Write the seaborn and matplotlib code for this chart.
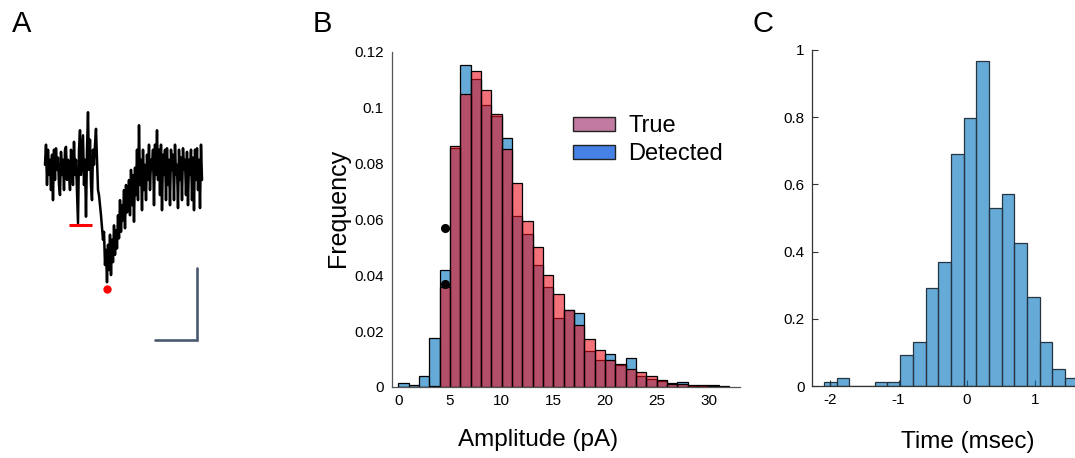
import numpy as np
import matplotlib
matplotlib.use("Agg")
import matplotlib.pyplot as plt
from matplotlib.patches import Patch
import seaborn as sns

# ---- panel A: example event trace (pA), one sample every 0.12 ms
trace_pA = [0.3, 3.1, -2.5, 2.4, -1.1, 1.0, -3.2, 1.7, -4.6, 2.4,
            -1.8, 2.6, -0.4, 1.3, -2.5, -3.9, 2.1, -1.1, 1.0, -3.2,
            2.4, 2.8, -1.8, 1.0, -0.7, -3.2, 2.4, 0.3, -2.5, 3.5,
            -1.1, 1.0, -3.2, -7.8, 2.4, 5.1, -1.1, 1.7, 4.4, -2.5,
            1.0, -6.9, 2.4, 7.6, -0.4, 3.8, -2.5, -4.6, 2.4, 0.3,
            3.1, 5.3, 1.0, -3.2, -3.9, -5.3, -6.7, -8.5, -10.1, -9.0,
            -13.6, -11.5, -16.0, -10.8, -14.3, -9.4, -15.0, -10.1, -13.2, -8.1,
            -12.2, -8.8, -11.3, -6.7, -9.9, -4.6, -9.0, -5.3, -7.4, -3.2,
            -8.5, -2.5, -6.3, -4.6, -1.8, -6.7, -0.4, -5.3, -1.1, -7.6,
            -0.1, -3.9, 2.4, -4.6, 5.8, -2.5, 1.0, -6.0, 2.4, -3.2,
            0.3, -4.6, 1.7, -1.8, 3.1, -3.2, 1.0, -0.4, 2.4, -5.3,
            3.1, -1.1, 5.1, -1.8, 2.4, -3.9, 3.1, -6.0, 1.7, -1.1,
            2.4, -4.6, 2.6, -2.5, 1.0, -5.3, 2.4, -0.4, 1.7, -4.6,
            3.1, -1.1, 0.3, -5.7, 2.4, -1.8, 1.3, -4.6, 2.6, -0.4,
            1.0, -3.9, 2.1, -5.3, 1.0, -1.1, 2.4, -4.6, 1.3, -6.0,
            2.4, -1.8, 2.6, -3.2, 1.0, -5.7, 3.1, -1.8]
sample_ms = 0.12
threshold_pA = -8.1
threshold_ms = [2.9, 5.6]
scalebar_ms = 5
scalebar_pA = 10

# ---- panel B: amplitude histograms (1 pA bins)
amp_edges = list(range(0, 33))
detected_freq = [0.0016, 0.0007, 0.0038, 0.0177, 0.0418, 0.0854, 0.115, 0.110,
                 0.101, 0.097, 0.089, 0.061, 0.0546, 0.0436, 0.0358, 0.0248,
                 0.0277, 0.0266, 0.0129, 0.0098, 0.0117, 0.0080, 0.0105, 0.0038,
                 0.0030, 0.0021, 0.0014, 0.0017, 0.0005, 0.0003, 0.0008, 0.0001]
true_freq = [0.0, 0.0, 0.0, 0.0005, 0.0358, 0.0863, 0.1047, 0.1131,
             0.1063, 0.0975, 0.085, 0.0728, 0.0595, 0.0499, 0.040, 0.0331,
             0.0277, 0.0221, 0.0171, 0.0134, 0.0098, 0.0084, 0.0063, 0.0054,
             0.0038, 0.0026, 0.0012, 0.0012, 0.0008, 0.0008, 0.0005, 0.0003]
marker_amp = [4.57, 4.57]
marker_freq = [0.057, 0.037]

# ---- panel C: timing error histogram
time_edges = [-2.09, -1.997, -1.905, -1.719, -1.534, -1.348, -1.163, -0.977,
              -0.792, -0.606, -0.421, -0.235, -0.050, 0.136, 0.321, 0.507,
              0.692, 0.878, 1.063, 1.249, 1.434, 1.620]
time_density = [0.0129, 0.0129, 0.025, 0.0, 0.0, 0.012, 0.012, 0.092,
                 0.132, 0.291, 0.370, 0.690, 0.797, 0.968, 0.529, 0.570,
                 0.425, 0.266, 0.132, 0.052, 0.025]

sns.set_theme(style="white")
plt.rcParams["font.family"] = ["Liberation Sans", "DejaVu Sans"]
plt.rcParams["axes.unicode_minus"] = False
plt.rcParams["text.color"] = "black"
plt.rcParams["axes.labelcolor"] = "black"
plt.rcParams["xtick.color"] = "black"
plt.rcParams["ytick.color"] = "black"

W, H = 1075, 458
fig = plt.figure(figsize=(W / 100, H / 100), dpi=100)


def box(l, t, r, b):
    return [l / W, 1 - b / H, (r - l) / W, (b - t) / H]


def restyle(patches, face, edge, lw):
    for p in patches:
        p.set_alpha(None)
        p.set_facecolor(face)
        p.set_edgecolor(edge)
        p.set_linewidth(lw)


axA = fig.add_axes(box(40, 100, 210, 350))
axB = fig.add_axes(box(392, 51.5, 740, 387))
axC = fig.add_axes(box(811.7, 50, 1075, 386))

# ---- A
t = np.arange(len(trace_pA)) * sample_ms
sns.lineplot(x=t, y=trace_pA, ax=axA, color="black", lw=1.8)
axA.plot(threshold_ms, [threshold_pA, threshold_pA], color="red", lw=2.2,
         solid_capstyle="butt")
imin = int(np.argmin(trace_pA))
axA.plot(t[imin], trace_pA[imin] - 1.0, "o", color="red", ms=6, mec="none")
x0, y0 = 18.24, -24.0
axA.plot([x0 - scalebar_ms, x0, x0], [y0, y0, y0 + scalebar_pA],
         color="#4a5a70", lw=1.9, solid_joinstyle="miter")
axA.set_xlim(-0.6, 19.8)
axA.set_ylim(-25.4, 9.3)
axA.axis("off")

# ---- B
amp_centers = [e + 0.5 for e in amp_edges[:-1]]
n0 = len(axB.patches)
sns.histplot(x=amp_centers, weights=detected_freq, bins=amp_edges, ax=axB)
restyle(axB.patches[n0:], (0.0, 0.447, 0.741, 0.6), "black", 0.9)
n1 = len(axB.patches)
sns.histplot(x=amp_centers, weights=true_freq, bins=amp_edges, ax=axB)
restyle(axB.patches[n1:], (0.92, 0.05, 0.1, 0.58), "black", 0.9)
axB.plot(marker_amp, marker_freq, "o", color="black", ms=5.5, zorder=5)

axB.set_xlim(-0.6, 33.05)
axB.set_ylim(0, 0.12)
axB.set_yticks([0, 0.02, 0.04, 0.06, 0.08, 0.1, 0.12])
axB.set_yticklabels(["0", "0.02", "0.04", "0.06", "0.08", "0.1", "0.12"])
axB.set_xticks([0, 5, 10, 15, 20, 25, 30])
axB.tick_params(axis="both", length=0, labelsize=11)
axB.tick_params(axis="y", pad=6)
axB.tick_params(axis="x", pad=5)
for s in ["top", "right"]:
    axB.spines[s].set_visible(False)
for s in ["left", "bottom"]:
    axB.spines[s].set_color("#555555")
    axB.spines[s].set_linewidth(0.9)
axB.set_xlabel("Amplitude (pA)", fontsize=17.5)
axB.set_ylabel("Frequency", fontsize=18)
axB.xaxis.set_label_coords(0.42, -0.125)
axB.yaxis.set_label_coords(-0.12, 0.534)

handles = [Patch(facecolor="#c27ba0", edgecolor="#222222", lw=1.0),
           Patch(facecolor="#4682e6", edgecolor="#222222", lw=1.0)]
axB.legend(handles, ["True", "Detected"], loc="upper left",
           bbox_to_anchor=(0.52, 0.81), frameon=False, fontsize=17,
           handlelength=1.8, handleheight=0.55, handletextpad=0.55,
           labelspacing=0.25, borderpad=0, borderaxespad=0)

# ---- C
time_centers = [(a + b) / 2 for a, b in zip(time_edges[:-1], time_edges[1:])]
sns.histplot(x=time_centers, weights=time_density, bins=time_edges, ax=axC)
restyle(axC.patches, (0.0, 0.447, 0.741, 0.6), (0.15, 0.2, 0.25), 0.9)
axC.set_xlim(-2.27, 1.58)
axC.set_ylim(0, 1)
axC.set_yticks([0, 0.2, 0.4, 0.6, 0.8, 1])
axC.set_yticklabels(["0", "0.2", "0.4", "0.6", "0.8", "1"])
axC.set_xticks([-2, -1, 0, 1])
axC.tick_params(axis="both", direction="in", length=4, width=0.8,
                color="#333333", labelcolor="black", labelsize=11,
                bottom=True, left=True, pad=5)
for s in ["top", "right"]:
    axC.spines[s].set_visible(False)
for s in ["left", "bottom"]:
    axC.spines[s].set_color("#333333")
    axC.spines[s].set_linewidth(0.9)
axC.set_ylabel("")
axC.set_xlabel("Time (msec)", fontsize=17.5)
axC.xaxis.set_label_coords(0.592, -0.134)

# panel letters
for letter, px in [("A", 12), ("B", 313), ("C", 752)]:
    fig.text(px / W, 1 - 10 / H, letter, ha="left", va="top", fontsize=21,
             family=["Liberation Sans Narrow", "Liberation Sans"])

fig.savefig("out.png", dpi=100)
